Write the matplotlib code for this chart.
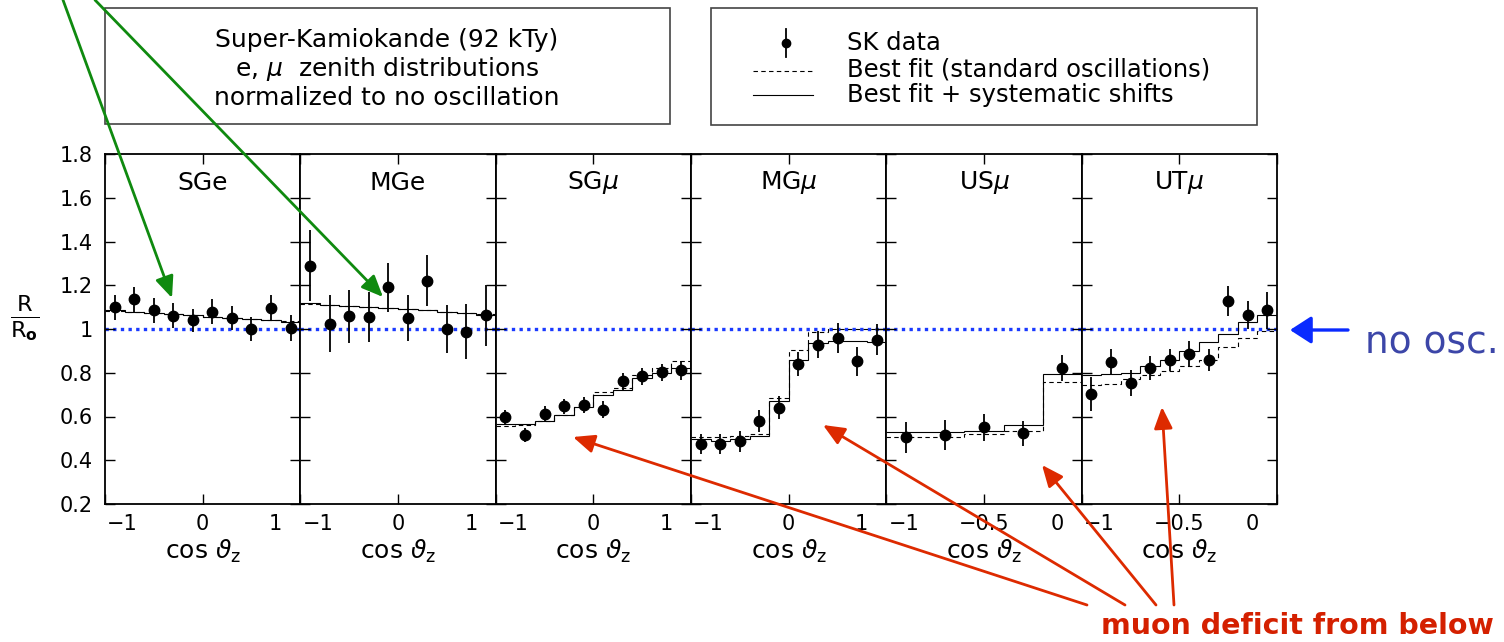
import matplotlib
matplotlib.use("Agg")
import matplotlib.pyplot as plt
from matplotlib.patches import Rectangle, FancyArrowPatch
from matplotlib.lines import Line2D
from matplotlib.ticker import FuncFormatter

W, H = 1504, 642

# --- data ---
names = ['SGe', 'MGe', r'SG$\mu$', r'MG$\mu$', r'US$\mu$', r'UT$\mu$']

edges_10 = [-1.0, -0.8, -0.6, -0.4, -0.2, 0.0, 0.2, 0.4, 0.6, 0.8, 1.0]
cos_10 = [-0.9, -0.7, -0.5, -0.3, -0.1, 0.1, 0.3, 0.5, 0.7, 0.9]
edges_us = [-1.0, -0.8, -0.6, -0.4, -0.2, 0.0]
cos_us = [-0.9, -0.7, -0.5, -0.3, -0.1]
edges_ut = [-1.0, -0.9, -0.8, -0.7, -0.6, -0.5, -0.4, -0.3, -0.2, -0.1, 0.0]
cos_ut = [-0.95, -0.85, -0.75, -0.65, -0.55, -0.45, -0.35, -0.25, -0.15, -0.05]

sge_r = [1.10, 1.135, 1.085, 1.06, 1.04, 1.08, 1.05, 1.00, 1.095, 1.005]
sge_err = [0.057, 0.058, 0.057, 0.057, 0.053, 0.059, 0.056, 0.055, 0.059, 0.058]
sge_std = [1.083, 1.078, 1.073, 1.068, 1.062, 1.056, 1.05, 1.045, 1.04, 1.035]
sge_sys = [1.085, 1.08, 1.075, 1.07, 1.063, 1.057, 1.05, 1.045, 1.04, 1.033]

mge_r = [1.29, 1.025, 1.058, 1.055, 1.19, 1.05, 1.22, 1.0, 0.987, 1.063]
mge_err = [0.164, 0.13, 0.12, 0.113, 0.114, 0.107, 0.117, 0.11, 0.126, 0.14]
mge_std = [1.115, 1.11, 1.105, 1.10, 1.095, 1.09, 1.085, 1.08, 1.075, 1.07]
mge_sys = [1.118, 1.112, 1.106, 1.10, 1.095, 1.09, 1.085, 1.08, 1.074, 1.066]

sgm_r = [0.597, 0.516, 0.612, 0.646, 0.654, 0.631, 0.761, 0.783, 0.802, 0.811]
sgm_err = [0.034, 0.033, 0.037, 0.034, 0.037, 0.038, 0.04, 0.04, 0.038, 0.042]
sgm_std = [0.555, 0.56, 0.58, 0.605, 0.645, 0.71, 0.73, 0.79, 0.82, 0.852]
sgm_sys = [0.565, 0.565, 0.58, 0.605, 0.645, 0.70, 0.72, 0.775, 0.80, 0.823]

mgm_r = [0.475, 0.475, 0.486, 0.58, 0.641, 0.84, 0.929, 0.96, 0.852, 0.952]
mgm_err = [0.046, 0.046, 0.046, 0.05, 0.052, 0.055, 0.061, 0.069, 0.065, 0.069]
mgm_std = [0.505, 0.505, 0.51, 0.52, 0.686, 0.905, 0.985, 1.0, 1.0, 1.0]
mgm_sys = [0.495, 0.49, 0.495, 0.51, 0.67, 0.857, 0.938, 0.944, 0.944, 0.94]

usm_r = [0.505, 0.516, 0.55, 0.524, 0.822]
usm_err = [0.07, 0.07, 0.063, 0.057, 0.06]
usm_std = [0.505, 0.508, 0.52, 0.535, 0.76]
usm_sys = [0.528, 0.527, 0.536, 0.559, 0.796]

utm_r = [0.703, 0.85, 0.753, 0.822, 0.857, 0.888, 0.86, 1.128, 1.063, 1.085]
utm_err = [0.076, 0.06, 0.06, 0.055, 0.05, 0.055, 0.05, 0.07, 0.065, 0.085]
utm_std = [0.745, 0.75, 0.77, 0.79, 0.81, 0.83, 0.86, 0.917, 0.96, 0.99]
utm_sys = [0.79, 0.795, 0.80, 0.83, 0.86, 0.90, 0.94, 0.975, 1.03, 1.063]

panels = [
    (cos_10, edges_10, sge_r, sge_err, sge_std, sge_sys),
    (cos_10, edges_10, mge_r, mge_err, mge_std, mge_sys),
    (cos_10, edges_10, sgm_r, sgm_err, sgm_std, sgm_sys),
    (cos_10, edges_10, mgm_r, mgm_err, mgm_std, mgm_sys),
    (cos_us, edges_us, usm_r, usm_err, usm_std, usm_sys),
    (cos_ut, edges_ut, utm_r, utm_err, utm_std, utm_sys),
]
yticks = [0.2, 0.4, 0.6, 0.8, 1.0, 1.2, 1.4, 1.6, 1.8]
xt_full = [(-1, '\u22121'), (0, '0'), (1, '1')]
xt_half = [(-1, '\u22121'), (-0.5, '\u22120.5'), (0, '0')]


def fp(x, y):
    # pixel position (from top-left) -> figure fraction
    return (x / W, 1 - y / H)


fig = plt.figure(figsize=(W / 100, H / 100), dpi=100)

x0, x1, ytop, ybot = 105, 1277, 154, 504
pw = (x1 - x0) / 6
blue = '#1a3aff'

for i, (xc, edges, r, err, std, sysf) in enumerate(panels):
    ax = fig.add_axes([(x0 + i * pw) / W, 1 - ybot / H, pw / W, (ybot - ytop) / H])
    ax.set_xlim(edges[0], edges[-1])
    ax.set_ylim(0.2, 1.8)
    ax.axhline(1.0, color=blue, ls=(0, (1, 1.3)), lw=2.4, zorder=1)
    ax.stairs(std, edges, baseline=None, color='k', lw=0.8, ls=(0, (4, 3)), zorder=2)
    ax.stairs(sysf, edges, baseline=None, color='k', lw=0.8, zorder=2)
    ax.errorbar(xc, r, yerr=err, fmt='o', color='k', ms=7.5, elinewidth=1.3,
                capsize=0, zorder=3)

    ticks = xt_full if i < 4 else xt_half
    ax.set_xticks([t for t, _ in ticks])
    ax.set_xticklabels([])
    ax.set_yticks(yticks)
    ax.yaxis.set_major_formatter(FuncFormatter(lambda v, p: f'{v:g}'))
    ax.tick_params(direction='in', length=7, width=1, top=True, right=True,
                   labelsize=15, pad=9, labelleft=(i == 0))
    for s in ax.spines.values():
        s.set_linewidth(1.3)

    for j, (t, lab) in enumerate(ticks):
        ha, dx = 'center', 0
        if j == 0:
            ha, dx = 'left', 1.5
        elif j == len(ticks) - 1:
            ha, dx = 'right', -13
        ax.annotate(lab, xy=(t, 0), xycoords=ax.get_xaxis_transform(),
                    xytext=(dx, -7), textcoords='offset points',
                    ha=ha, va='top', fontsize=15)

    ax.text(0.5, (ybot - 183) / (ybot - ytop), names[i], transform=ax.transAxes,
            ha='center', va='center', fontsize=18)
    ax.text(0.5, (ybot - 551) / (ybot - ytop), r'cos $\vartheta_{\rm z}$',
            transform=ax.transAxes, ha='center', va='center', fontsize=18)

fig.text(*fp(25, 318), r'$\frac{\mathrm{R}}{\mathrm{R}_{\mathbf{o}}}$',
         ha='center', va='center', fontsize=23)

# info box
fig.add_artist(Rectangle(fp(105, 124), (670 - 105) / W, (124 - 8) / H,
                         transform=fig.transFigure, fill=False, ec='#444444', lw=1.2))
for yy, s in [(40, 'Super-Kamiokande (92 kTy)'),
              (69, r'e, $\mu$  zenith distributions'),
              (98, 'normalized to no oscillation')]:
    fig.text(*fp(387, yy), s, ha='center', va='center', fontsize=18)

# legend box
fig.add_artist(Rectangle(fp(711, 125), (1257 - 711) / W, (125 - 8) / H,
                         transform=fig.transFigure, fill=False, ec='#444444', lw=1.2))
fig.add_artist(Line2D([786 / W, 786 / W], [1 - 29 / H, 1 - 57 / H], color='k', lw=1.3,
                      transform=fig.transFigure))
fig.add_artist(Line2D([786 / W], [1 - 43 / H], marker='o', ms=6, color='k',
                      transform=fig.transFigure))
fig.add_artist(Line2D([753 / W, 813 / W], [1 - 71 / H] * 2, color='k', lw=0.8,
                      ls=(0, (4, 3)), transform=fig.transFigure))
fig.add_artist(Line2D([753 / W, 813 / W], [1 - 95 / H] * 2, color='k', lw=0.8,
                      transform=fig.transFigure))
for yy, s in [(43, 'SK data'), (70, 'Best fit (standard oscillations)'),
              (95, 'Best fit + systematic shifts')]:
    fig.text(*fp(847, yy), s, ha='left', va='center', fontsize=17.5)


def arrow(p0, p1, color, lw=2.0, hw=0.28):
    a = FancyArrowPatch(fp(*p0), fp(*p1), transform=fig.transFigure,
                        arrowstyle=f'-|>,head_length=0.65,head_width={hw}',
                        mutation_scale=20, lw=lw, color=color,
                        shrinkA=0, shrinkB=0, zorder=5)
    fig.add_artist(a)


green = '#0f8a0f'
red = '#dd2a00'
arrow((63, 0), (172, 298), green)
arrow((95, 0), (383, 297), green)
arrow((1087, 605), (573, 437), red)
arrow((1125, 605), (823, 425), red)
arrow((1156, 605), (1042, 465), red)
arrow((1174, 605), (1162, 407), red)
arrow((1348, 330), (1290, 330), '#0a2aff', lw=2.4, hw=0.42)

fig.text(*fp(1365, 343), 'no osc.', ha='left', va='center', fontsize=27, color='#3c46a8')
fig.text(*fp(1101, 626), 'muon deficit from below', ha='left', va='center',
         fontsize=20.5, fontweight='bold', color='#d42000')

fig.savefig('out.png', dpi=100)
